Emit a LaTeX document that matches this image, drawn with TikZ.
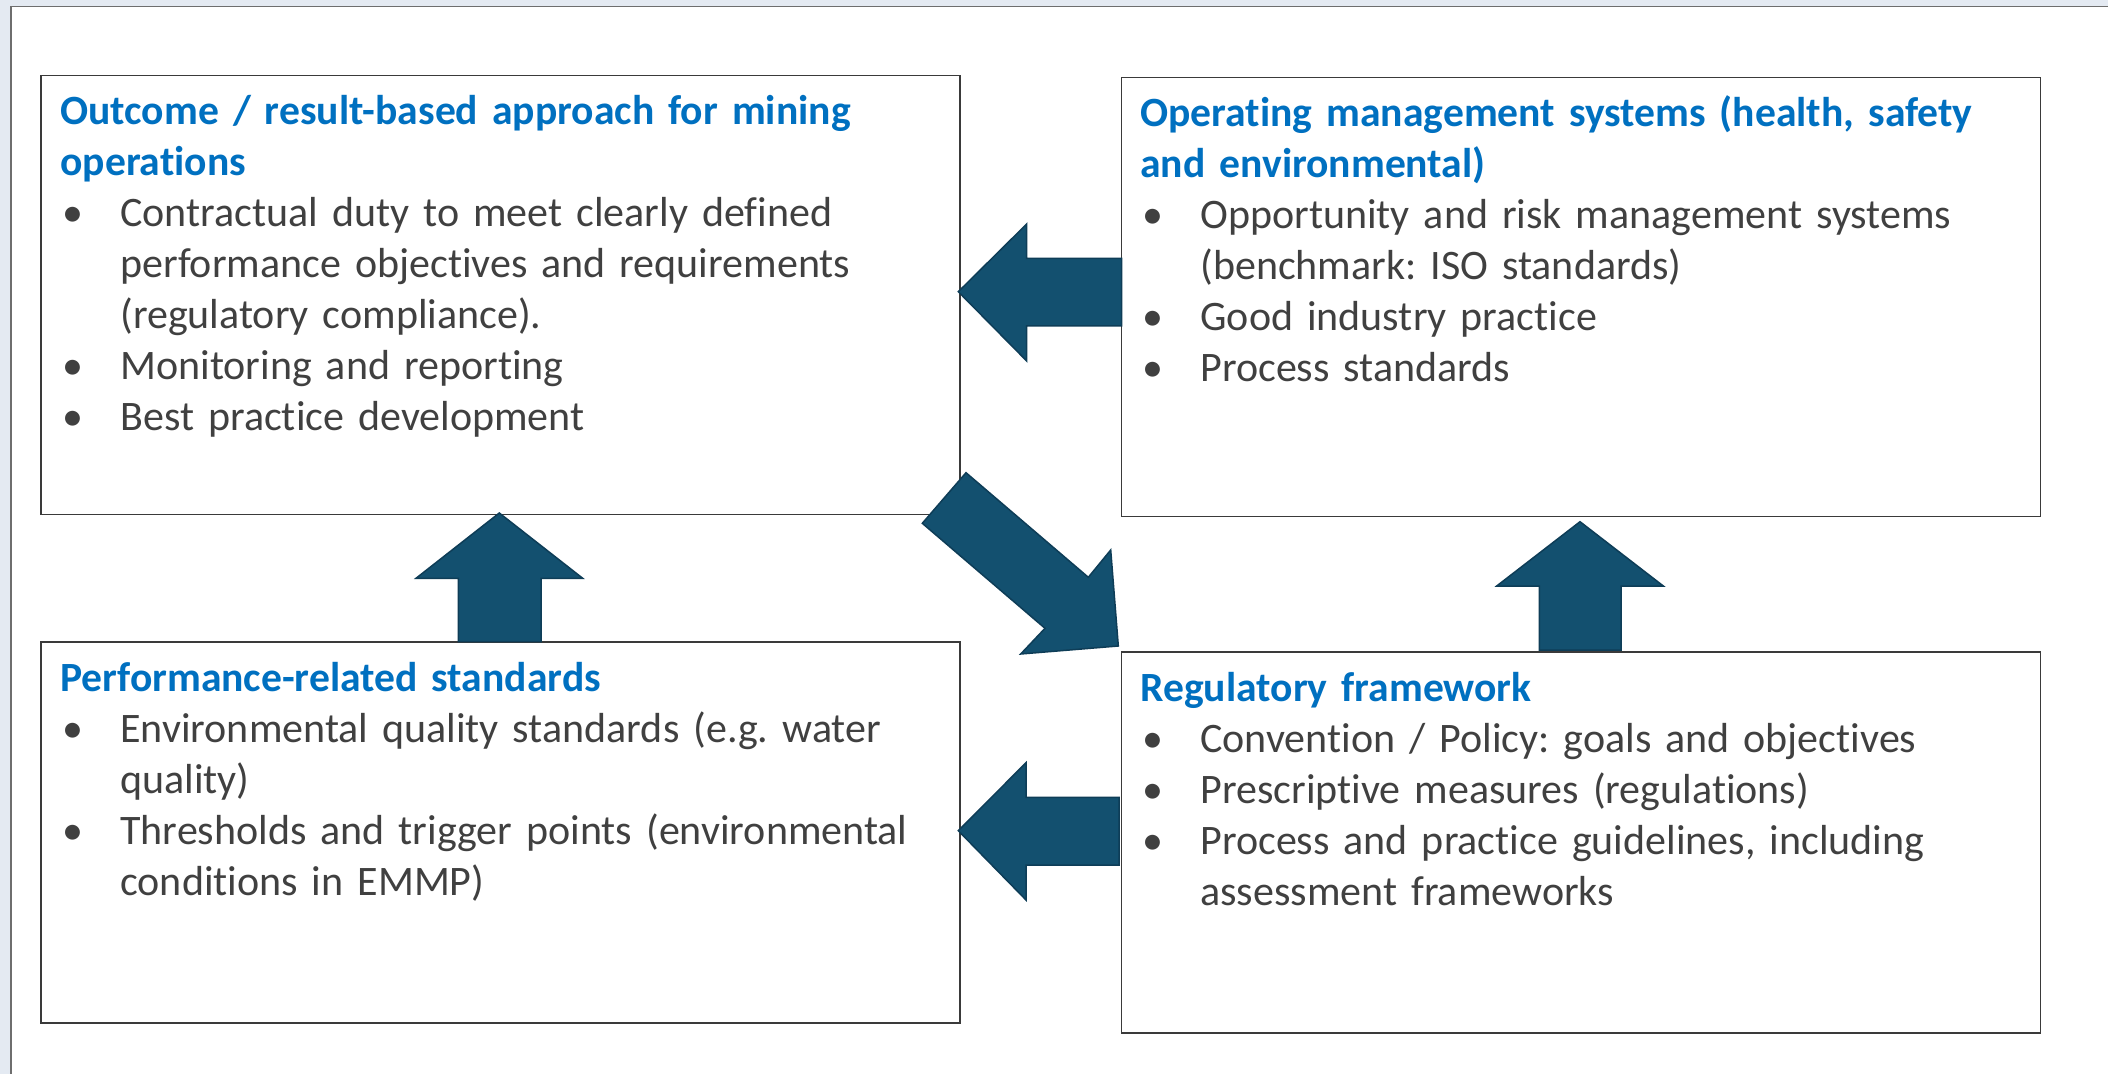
\documentclass[tikz,border=0pt]{standalone}
\usepackage{fontspec}
\setmainfont{Carlito}[Ligatures=CommonOff]
\frenchspacing
\definecolor{bgc}{HTML}{E4EAF2}
\definecolor{panelc}{HTML}{6E6E6E}
\definecolor{boxc}{HTML}{3A3A3A}
\definecolor{titleblue}{HTML}{0070C0}
\definecolor{bodygray}{HTML}{404040}
\definecolor{arrowc}{HTML}{13506F}
\definecolor{arrowedge}{HTML}{0E3D57}
\newcommand\bl{\makebox[30pt][l]{\hspace{1pt}•}}
\newcommand\ind{\hspace*{30pt}}
\newcommand\ttl[1]{{\fontsize{20.8}{25.5}\selectfont\textcolor{titleblue}{\textbf{#1}}}}
\tikzset{
  boxst/.style={draw=boxc, line width=0.75pt, fill=white, anchor=north west, inner sep=0, minimum width=459.5pt},
  txt/.style={anchor=base west, inner sep=0, align=left, text width=450pt,
    font=\fontsize{21}{25.5}\selectfont\frenchspacing, text=bodygray},
  blockarrow/.style={fill=arrowc, draw=arrowedge, line width=0.75pt, line join=miter}
}
\begin{document}
\begin{tikzpicture}[x=0.5pt,y=-0.5pt]
\useasboundingbox (0,0) rectangle (2108,1074);
\fill[bgc] (0,0) rectangle (2108,1074);
\fill[white] (11,6.7) rectangle (2120,1090);
\draw[panelc, line width=0.8pt] (11,1090) -- (11,6.7) -- (2120,6.7);

% boxes
\node[boxst, minimum height=219.5pt] (b1) at (40,75) {};
\node[boxst, minimum height=219.5pt] (b2) at (1120.7,77) {};
\node[boxst, minimum height=190.5pt] (b3) at (40,641) {};
\node[boxst, minimum height=190.5pt] (b4) at (1120.7,651) {};

% texts
\node[txt] (t1) at (60,125) {\ttl{Outcome / result-based approach for mining}\\
\ttl{operations}\\
\bl Contractual duty to meet clearly defined\\
\ind performance objectives and requirements\\
\ind (regulatory compliance).\\
\bl Monitoring and reporting\\
\bl Best practice development};

\node[txt] (t2) at (1140,127) {\ttl{Operating management systems (health, safety}\\
\ttl{and environmental)}\\
\bl Opportunity and risk management systems\\
\ind (benchmark: ISO standards)\\
\bl Good industry practice\\
\bl Process standards};

\node[txt] (t3) at (60,691) {\ttl{Performance-related standards}\\
\bl Environmental quality standards (e.g. water\\
\ind quality)\\
\bl Thresholds and trigger points (environmental\\
\ind conditions in EMMP)};

\node[txt] (t4) at (1140,701) {\ttl{Regulatory framework}\\
\bl Convention / Policy: goals and objectives\\
\bl Prescriptive measures (regulations)\\
\bl Process and practice guidelines, including\\
\ind assessment frameworks};

% block arrows
\draw[blockarrow] (958.3,291.7) -- (1026.7,224) -- (1026.7,258.3) -- (1121.7,258.3)
  -- (1121.7,326) -- (1026.7,326) -- (1026.7,361) -- cycle;
\draw[blockarrow] (499.3,513) -- (582.7,578.3) -- (541,578.3) -- (541,641.7)
  -- (458.3,641.7) -- (458.3,578.3) -- (416,578.3) -- cycle;
\draw[blockarrow] (966,472.7) -- (1088.3,577.3) -- (1110.7,550) -- (1118.3,646)
  -- (1020.7,654) -- (1045,628.3) -- (922.3,523.3) -- cycle;
\draw[blockarrow] (1580,521.7) -- (1663.3,586) -- (1621,586) -- (1621,650)
  -- (1539.3,650) -- (1539.3,586) -- (1496.7,586) -- cycle;
\draw[blockarrow] (958.3,830.7) -- (1026,762.7) -- (1026,797.3) -- (1119,797.3)
  -- (1119,865) -- (1026,865) -- (1026,900) -- cycle;
\end{tikzpicture}
\end{document}
